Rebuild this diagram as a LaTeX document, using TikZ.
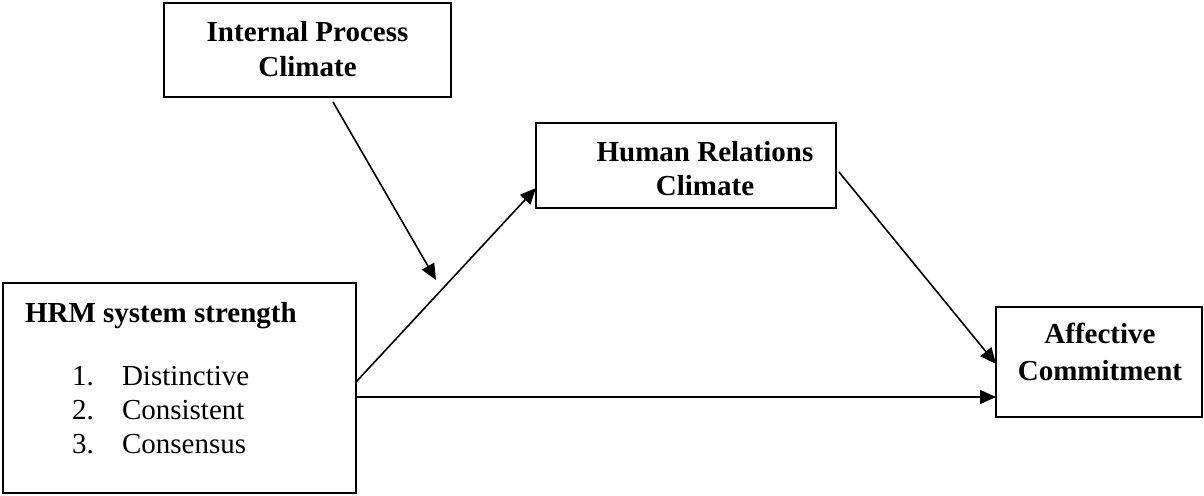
\documentclass[tikz,border=0pt]{standalone}
\usepackage{fontspec}
\setmainfont{Liberation Serif}
\usetikzlibrary{arrows.meta}
\begin{document}
\begin{tikzpicture}[x=1pt,y=-1pt,
  box/.style={draw, line width=1.8pt, inner sep=0pt, outer sep=0pt, anchor=north west},
  lbl/.style={inner sep=0pt, outer sep=0pt, font=\fontsize{29}{34}\selectfont\bfseries},
  item/.style={inner sep=0pt, outer sep=0pt, font=\fontsize{29}{34}\selectfont, anchor=base west},
  arr/.style={line width=1.6pt, -{Triangle[length=16pt,width=14pt]}}]
\useasboundingbox (0,0) rectangle (1204,495);
\fill[white] (0,0) rectangle (1204,495);
% boxes
\node[box, minimum width=287pt, minimum height=94pt] (ip) at (164,3) {};
\node[box, minimum width=300pt, minimum height=85pt] (hr) at (536,123) {};
\node[box, minimum width=353pt, minimum height=210pt] (hrm) at (3,283) {};
\node[box, minimum width=206pt, minimum height=110pt] (ac) at (996,307) {};
% texts
\node[lbl, anchor=base] (ipa) at (307.5,42) {Internal Process};
\node[lbl, anchor=base] (ipb) at (307.5,76) {Climate};
\node[lbl, anchor=base] (hra) at (705,161) {Human Relations};
\node[lbl, anchor=base] (hrb) at (705,195) {Climate};
\node[lbl, anchor=base] (aca) at (1100,343) {Affective};
\node[lbl, anchor=base] (acb) at (1100,380) {Commitment};
\node[lbl, anchor=base west] (hrmt) at (25,322) {HRM system strength};
\node[item] (n1) at (72,385) {1.};
\node[item] (i1) at (122,385) {Distinctive};
\node[item] (n2) at (72,419) {2.};
\node[item] (i2) at (122,419) {Consistent};
\node[item] (n3) at (72,453) {3.};
\node[item] (i3) at (122,453) {Consensus};
% connectors
\coordinate (mod) at (436,280);
\draw[arr] ([xshift=25.5pt,yshift=-5pt]ip.south) -- (mod);
\draw[arr] ([yshift=6pt]hrm.east) -- ([yshift=-22.5pt]hr.west);
\draw[arr] ([xshift=3pt,yshift=-6.5pt]hr.east) -- ([yshift=-2pt]ac.west);
\draw[arr] ([yshift=-9pt]hrm.east) -- ([yshift=-35pt]ac.west);
\end{tikzpicture}
\end{document}
